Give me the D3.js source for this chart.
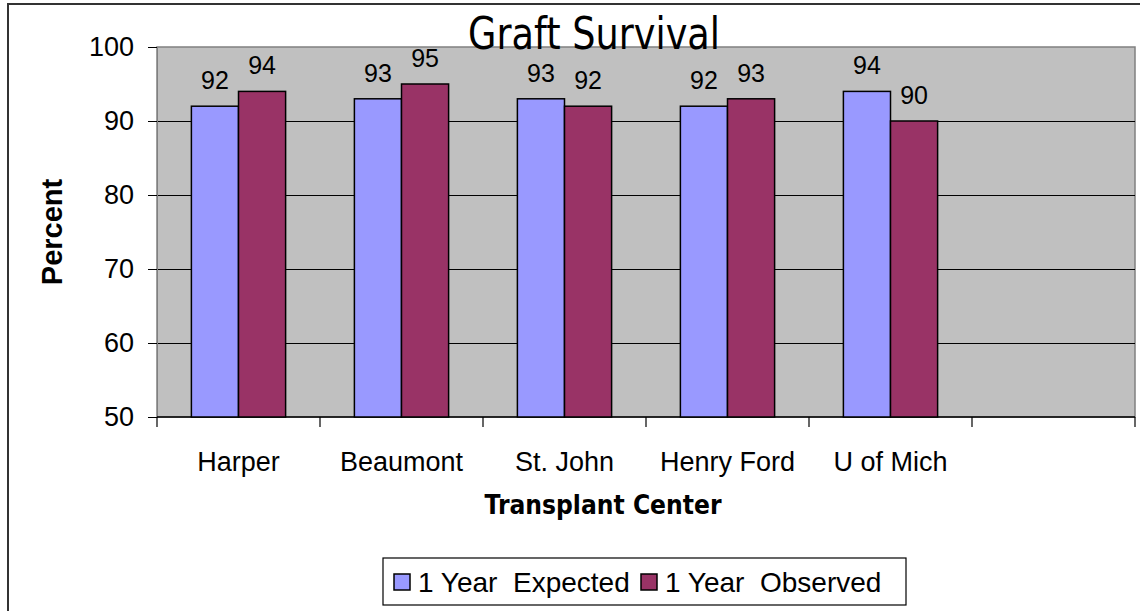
<!DOCTYPE html>
<html><head><meta charset="utf-8">
<script src="https://cdn.jsdelivr.net/npm/d3@7"></script>
<style>body{margin:0;background:#fff}svg{display:block}text{white-space:pre}</style>
</head><body>
<svg id="c" width="1140" height="611"></svg>
<script>
const categories = ["Harper", "Beaumont", "St. John", "Henry Ford", "U of Mich", ""];
const seriesNames = ["1 Year  Expected", "1 Year  Observed"];
const expected = [92, 93, 93, 92, 94];
const observed = [94, 95, 92, 93, 90];
const yTicks = [50, 60, 70, 80, 90, 100];
const colors = ["#9999FF", "#993366"];

const svg = d3.select("#c");
const L = 157, R = 1135, T = 47, B = 417;

// outer frame
svg.append("path").attr("d", `M8,611 V4 H1140`).attr("fill", "none").attr("stroke", "#333").attr("stroke-width", 2);

const x = d3.scaleBand().domain(categories.map((c, i) => i)).range([L, R]).padding(0);
const xs = d3.scaleBand().domain([0, 1]).range([0, x.bandwidth()]).paddingInner(0).paddingOuter(0.73);
const y = d3.scaleLinear().domain([50, 100]).range([B, T]);

svg.append("rect").attr("x", L).attr("y", T).attr("width", R - L).attr("height", B - T).attr("fill", "#C0C0C0").attr("stroke", "#808080").attr("stroke-width", 1.5);

// gridlines
svg.append("g").selectAll("line").data(yTicks.filter(v => v > 50 && v < 100)).join("line")
  .attr("x1", L).attr("x2", R).attr("y1", d => Math.round(y(d)) + 0.5).attr("y2", d => Math.round(y(d)) + 0.5)
  .attr("stroke", "#000").attr("stroke-width", 1.2);

// y axis
const yAxis = d3.axisLeft(y).tickValues(yTicks).tickSize(9).tickPadding(14);
const gy = svg.append("g").attr("transform", `translate(${L},0)`).call(yAxis);
gy.select(".domain").attr("stroke", "#808080");
gy.selectAll(".tick line").attr("stroke", "#000");
gy.selectAll("text").attr("font-family", "Liberation Sans, Arial").attr("font-size", 27).attr("fill", "#000");

// x axis
const xb = d3.scaleLinear().domain([0, categories.length]).range([L, R]);
svg.append("line").attr("x1", L).attr("x2", R).attr("y1", B).attr("y2", B).attr("stroke", "#000").attr("stroke-width", 1.5);
svg.append("g").selectAll("line").data(d3.range(categories.length + 1)).join("line")
  .attr("x1", d => xb(d)).attr("x2", d => xb(d)).attr("y1", B).attr("y2", B + 10).attr("stroke", "#000").attr("stroke-width", 1.2);
svg.append("g").selectAll("text").data(categories).join("text")
  .attr("x", (d, i) => x(i) + x.bandwidth() / 2).attr("y", 471)
  .attr("text-anchor", "middle").attr("font-family", "Liberation Sans, Arial").attr("font-size", 27)
  .text(d => d);

// bars
const series = [expected, observed];
series.forEach((vals, s) => {
  const g = svg.append("g");
  g.selectAll("rect").data(vals).join("rect")
    .attr("x", (d, i) => x(i) + xs(s)).attr("width", xs.bandwidth())
    .attr("y", d => y(d)).attr("height", d => y(50) - y(d))
    .attr("fill", colors[s]).attr("stroke", "#000").attr("stroke-width", 1.5);
  g.selectAll("text").data(vals).join("text")
    .attr("x", (d, i) => x(i) + xs(s) + xs.bandwidth() / 2).attr("y", d => y(d) - 17)
    .attr("text-anchor", "middle").attr("font-family", "Liberation Sans, Arial").attr("font-size", 25)
    .text(d => d);
});

// titles
svg.append("text").attr("x", 594).attr("y", 49).attr("text-anchor", "middle")
  .attr("font-family", "DejaVu Sans").attr("font-size", 44).attr("textLength", 252).attr("lengthAdjust", "spacingAndGlyphs")
  .text("Graft Survival");
svg.append("text").attr("x", 603).attr("y", 514).attr("text-anchor", "middle")
  .attr("font-family", "DejaVu Sans").attr("font-weight", "bold").attr("font-size", 27).attr("textLength", 237).attr("lengthAdjust", "spacingAndGlyphs")
  .text("Transplant Center");
svg.append("text").attr("transform", "translate(62,232) rotate(-90)").attr("text-anchor", "middle")
  .attr("font-family", "Liberation Sans, Arial").attr("font-weight", "bold").attr("font-size", 29)
  .text("Percent");

// legend
const lg = svg.append("g");
lg.append("rect").attr("x", 383).attr("y", 558).attr("width", 523).attr("height", 47).attr("fill", "#fff").attr("stroke", "#000").attr("stroke-width", 1.2);
const lx = [394, 641];
seriesNames.forEach((n, i) => {
  lg.append("rect").attr("x", lx[i]).attr("y", 574).attr("width", 16).attr("height", 16).attr("fill", colors[i]).attr("stroke", "#000").attr("stroke-width", 1.5);
  lg.append("text").attr("x", lx[i] + 24).attr("y", 592).attr("font-family", "Liberation Sans, Arial").attr("font-size", 28).text(n);
});
</script>
</body></html>
